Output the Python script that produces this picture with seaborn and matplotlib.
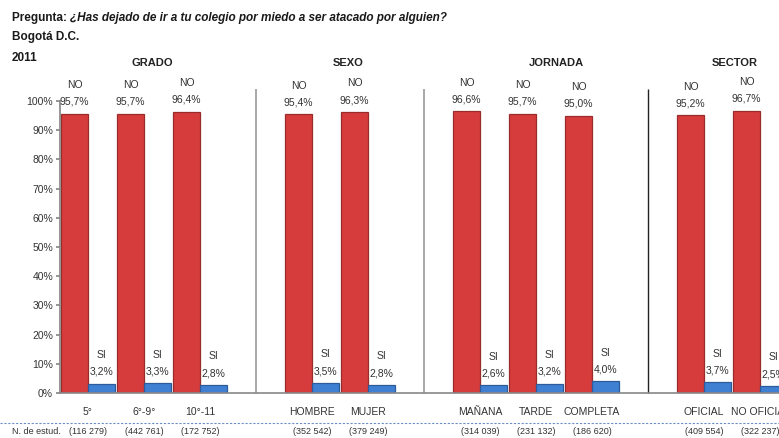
import numpy as np
import pandas as pd
import matplotlib
matplotlib.use("Agg")
import matplotlib.pyplot as plt
import matplotlib.transforms as mtransforms
from matplotlib.lines import Line2D
import seaborn as sns

sns.set_theme(style="white")
plt.rcParams['font.family'] = ['Liberation Sans Narrow', 'Liberation Sans', 'DejaVu Sans']

categories = ["5°", "6°-9°", "10°-11", "HOMBRE", "MUJER", "MAÑANA", "TARDE", "COMPLETA", "OFICIAL", "NO OFICIAL"]
no_vals = [95.7, 95.7, 96.4, 95.4, 96.3, 96.6, 95.7, 95.0, 95.2, 96.7]
si_vals = [3.2, 3.3, 2.8, 3.5, 2.8, 2.6, 3.2, 4.0, 3.7, 2.5]
counts = ["(116 279)", "(442 761)", "(172 752)", "(352 542)", "(379 249)",
          "(314 039)", "(231 132)", "(186 620)", "(409 554)", "(322 237)"]
groups = ["GRADO", "SEXO", "JORNADA", "SECTOR"]

# empty slots separate the four groups
order = ["5°", "6°-9°", "10°-11", "_g1", "HOMBRE", "MUJER", "_g2",
         "MAÑANA", "TARDE", "COMPLETA", "_g3", "OFICIAL", "NO OFICIAL"]

df = pd.DataFrame({
    'cat': categories * 2,
    'resp': ['NO'] * len(categories) + ['SI'] * len(categories),
    'val': no_vals + si_vals,
})

fig = plt.figure(figsize=(7.79, 4.38), dpi=100)
ax = fig.add_axes([60 / 779, 45 / 438, 1 - 60 / 779, 292 / 438])

sns.barplot(data=df, x='cat', y='val', hue='resp', order=order, hue_order=['NO', 'SI'],
            palette={'NO': '#d63c3c', 'SI': '#3f80d3'}, saturation=1, width=0.96,
            ax=ax, legend=False)
for patch in ax.patches:
    fc = patch.get_facecolor()
    patch.set_edgecolor(tuple(c * 0.72 for c in fc[:3]))
    patch.set_linewidth(0.9)

ax.set_xlim(-0.5, 12.34)
ax.set_ylim(0, 100)
ax.set_yticks(np.arange(0, 101, 10))
ax.set_yticklabels([f"{v}%" for v in range(0, 101, 10)], fontsize=7.5, color='#333333')
ax.tick_params(axis='y', length=3, color='#888888', pad=2, left=True)
ax.set_xticks([order.index(c) for c in categories])
ax.set_xticklabels(categories, fontsize=7.5, color='#333333')
ax.tick_params(axis='x', length=0, pad=10)
ax.set_xlabel('')
ax.set_ylabel('')
for s in ['top', 'right']:
    ax.spines[s].set_visible(False)
ax.spines['left'].set_color('#888888')
ax.spines['bottom'].set_color('#888888')
ax.spines['bottom'].set_linewidth(1.2)

# value labels
for i, c in enumerate(categories):
    p = order.index(c)
    ax.text(p - 0.24, no_vals[i] + 4, f"{no_vals[i]:.1f}%".replace('.', ','), ha='center', va='center',
            fontsize=7.5, color='#333333', clip_on=False)
    ax.text(p - 0.24, no_vals[i] + 9.7, "NO", ha='center', va='center',
            fontsize=7.5, color='#333333', clip_on=False)
    ax.text(p + 0.24, si_vals[i] + 4, f"{si_vals[i]:.1f}%".replace('.', ','), ha='center', va='center',
            fontsize=7.5, color='#333333', clip_on=False)
    ax.text(p + 0.24, si_vals[i] + 9.8, "SI", ha='center', va='center',
            fontsize=7.5, color='#333333', clip_on=False)

# group separators
ax.vlines([3, 6], 0, 104, colors='#999999', linewidth=1.2, clip_on=False)
ax.vlines([10], 0, 104, colors='#222222', linewidth=1.0, clip_on=False)

# group titles
for g, gx in zip(groups, [1.14, 4.64, 8.37, 11.55]):
    ax.text(gx, 113, g, ha='center', va='center', fontsize=8, fontweight='bold',
            color='#222222', clip_on=False)

# counts row
trans = mtransforms.blended_transform_factory(ax.transData, fig.transFigure)
for i, c in enumerate(categories):
    ax.text(order.index(c), 1 - 432 / 438, counts[i], ha='center', va='center',
            fontsize=6.5, color='#333333', transform=trans, clip_on=False)
fig.text(12 / 779, 1 - 432 / 438, "N. de estud.", ha='left', va='center', fontsize=6.5, color='#333333')
fig.add_artist(Line2D([0, 1], [1 - 423 / 438] * 2, transform=fig.transFigure,
                      color='#6a8fc8', linestyle=(0, (2, 1.5)), linewidth=0.8))

# header
t1 = fig.text(12 / 779, 1 - 18 / 438, "Pregunta: ", ha='left', va='center', fontsize=8.5,
              fontweight='bold', color='#1a1a1a')
fig.canvas.draw()
bb = t1.get_window_extent()
fig.text(bb.x1 / fig.bbox.width, 1 - 18 / 438,
         "¿Has dejado de ir a tu colegio por miedo a ser atacado por alguien?",
         ha='left', va='center', fontsize=8.5, fontweight='bold', fontstyle='italic', color='#1a1a1a')
fig.text(12 / 779, 1 - 37 / 438, "Bogotá D.C.", ha='left', va='center', fontsize=8.5,
         fontweight='bold', color='#1a1a1a')
fig.text(12 / 779, 1 - 58 / 438, "2011", ha='left', va='center', fontsize=8.5,
         fontweight='bold', color='#1a1a1a')

fig.savefig('out.png', dpi=100)
